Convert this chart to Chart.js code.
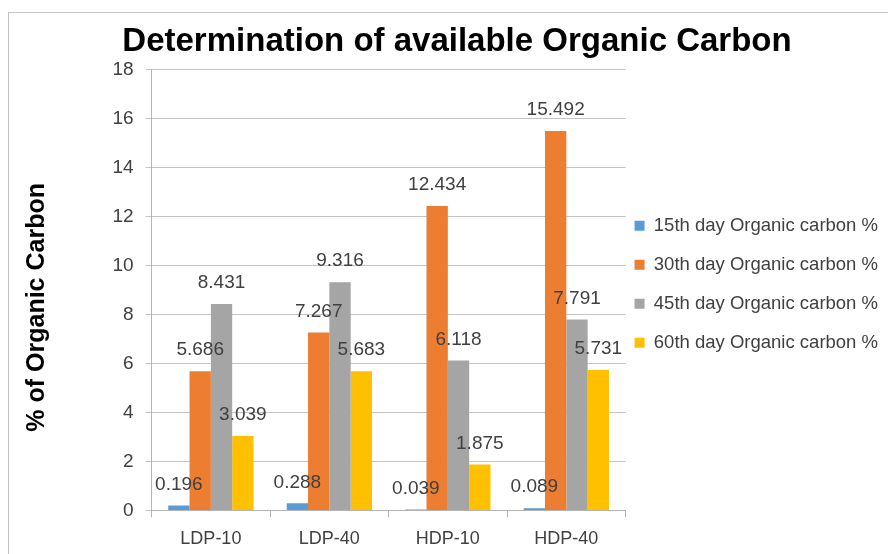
<!DOCTYPE html>
<html>
<head>
<meta charset="utf-8">
<script src="https://cdn.jsdelivr.net/npm/chart.js@4/dist/chart.umd.min.js"></script>
<style>
  html, body { margin: 0; padding: 0; background: #fff; overflow: hidden; }
  #frame { position: absolute; left: 8px; top: 12px; width: 900px; height: 600px;
           border-top: 1px solid #c6c6c6; border-left: 1px solid #c6c6c6; }
  #chart { position: absolute; left: 0; top: 0; }
</style>
</head>
<body>
<div id="frame"></div>
<canvas id="chart" width="888" height="554"></canvas>
<script>
// data
const categories = ['LDP-10', 'LDP-40', 'HDP-10', 'HDP-40'];
const seriesNames = ['15th day Organic carbon %', '30th day Organic carbon %', '45th day Organic carbon %', '60th day Organic carbon %'];
const day15 = [0.196, 0.288, 0.039, 0.089];
const day30 = [5.686, 7.267, 12.434, 15.492];
const day45 = [8.431, 9.316, 6.118, 7.791];
const day60 = [3.039, 5.683, 1.875, 5.731];
const yTickValues = [0, 2, 4, 6, 8, 10, 12, 14, 16, 18];

const colors = ['#5b9bd5', '#ed7d31', '#a5a5a5', '#ffc000'];
const fontFamily = '"Liberation Sans", Arial, sans-serif';
const textColor = '#404040';

Chart.defaults.font.family = fontFamily;

// value labels above each bar
const barLabels = {
    id: 'barLabels',
    afterDatasetsDraw(chart) {
        const ctx = chart.ctx;
        ctx.save();
        ctx.font = '19px ' + fontFamily;
        ctx.fillStyle = textColor;
        ctx.textAlign = 'center';
        ctx.textBaseline = 'middle';
        chart.data.datasets.forEach((ds, i) => {
            const meta = chart.getDatasetMeta(i);
            meta.data.forEach((bar, j) => {
                ctx.fillText(ds.data[j].toFixed(3), bar.x, bar.y - 21);
            });
        });
        ctx.restore();
    }
};

const allSeries = [day15, day30, day45, day60];

new Chart(document.getElementById('chart').getContext('2d'), {
    type: 'bar',
    data: {
        labels: categories,
        datasets: allSeries.map((values, i) => ({
            label: seriesNames[i],
            data: values,
            backgroundColor: colors[i],
            borderWidth: 0,
            categoryPercentage: 0.72,
            barPercentage: 1
        }))
    },
    options: {
        responsive: false,
        animation: false,
        layout: { padding: { left: 26, right: 0, top: 12, bottom: -7 } },
        plugins: {
            title: {
                display: true,
                text: 'Determination of available Organic Carbon',
                color: '#000',
                font: { size: 33, weight: 'bold' },
                padding: { top: 10, bottom: 8 }
            },
            legend: {
                position: 'right',
                fullSize: false,
                maxWidth: 400,
                labels: {
                    boxWidth: 10,
                    boxHeight: 10,
                    padding: 9,
                    color: textColor,
                    font: { size: 18.5, lineHeight: 30 / 18.5 },
                    generateLabels(chart) {
                        const items = Chart.defaults.plugins.legend.labels.generateLabels(chart);
                        items.forEach(it => { it.text = [it.text]; it.lineWidth = 0; });
                        return items;
                    }
                }
            },
            tooltip: { enabled: false }
        },
        scales: {
            x: {
                grid: { drawOnChartArea: false, drawTicks: true, tickLength: 7, color: '#b4b4b4' },
                border: { color: '#b4b4b4' },
                ticks: { color: textColor, font: { size: 18 }, padding: 11 }
            },
            y: {
                min: 0,
                max: 18,
                afterBuildTicks(scale) {
                    scale.ticks = yTickValues.map(v => ({ value: v }));
                },
                grid: { color: '#c4c4c4', tickLength: 6 },
                border: { color: '#b4b4b4' },
                ticks: { color: textColor, font: { size: 19 }, padding: 12 },
                title: {
                    display: true,
                    text: '% of Organic Carbon     ',
                    color: '#000',
                    font: { size: 25, weight: 'bold', lineHeight: 0.5 },
                    padding: { top: 5, bottom: 57 }
                }
            }
        }
    },
    plugins: [barLabels]
});
</script>
</body>
</html>
